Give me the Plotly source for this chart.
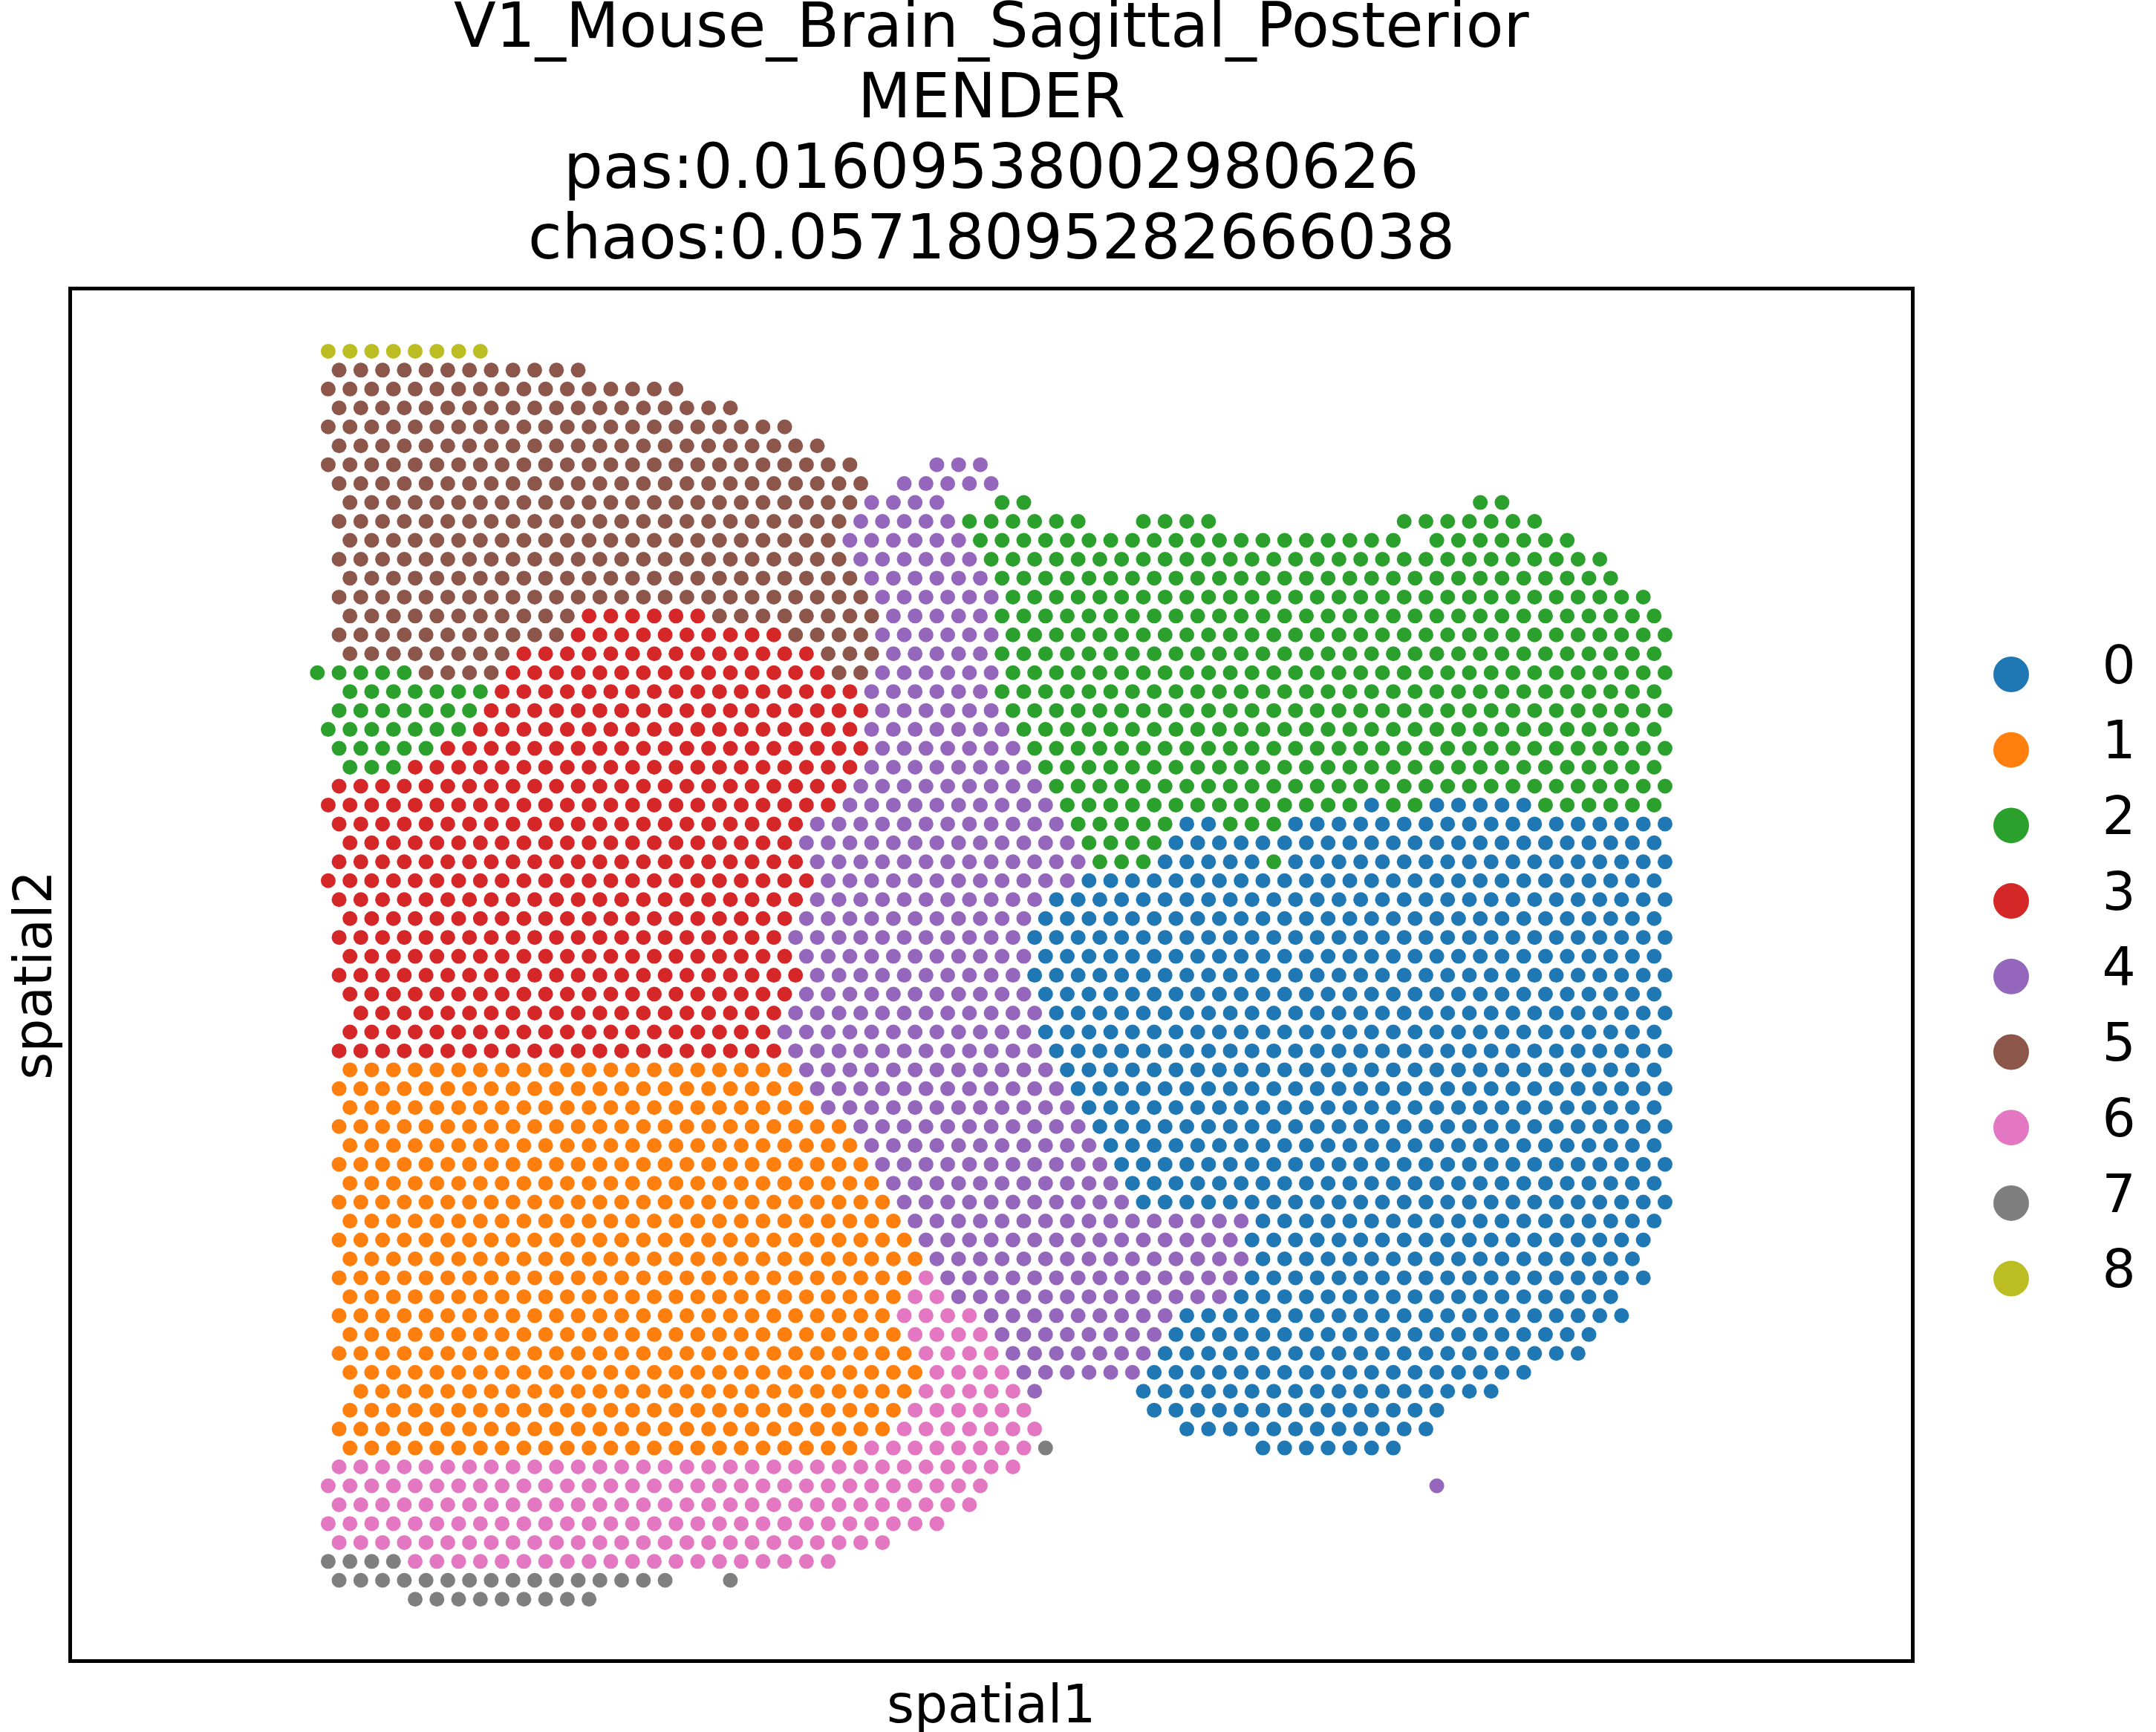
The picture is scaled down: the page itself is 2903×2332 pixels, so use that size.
import plotly.graph_objects as go

# ---------------- data ----------------
CLUSTERS = ["0", "1", "2", "3", "4", "5", "6", "7", "8"]
COLORS = ["#1f77b4", "#ff7f0e", "#2ca02c", "#d62728", "#9467bd",
          "#8c564b", "#e377c2", "#7f7f7f", "#bcbd22"]

# One entry per row of the hexagonal spot grid (top row first).
# Each run is "cluster:first-last" on the half-pitch column index
# (spots inside a row sit on every second column).
SPOT_ROWS = [
    "8:1-15",
    "5:2-24",
    "5:1-33",
    "5:2-38",
    "5:1-43",
    "5:2-46",
    "5:1-49 4:57-61",
    "5:2-50 4:54-62",
    "5:3-49 4:51-57 2:63-65 2:107-109",
    "5:2-48 4:50-58 2:60-70 2:76-82 2:100-112",
    "5:3-47 4:49-59 2:61-99 2:103-115",
    "5:2-48 4:50-60 2:62-118",
    "5:3-49 4:51-61 2:63-119",
    "5:2-50 4:52-62 2:64-122",
    "5:3-23 3:25-35 5:37-51 4:53-61 2:63-123",
    "5:2-22 3:24-42 5:44-50 4:52-62 2:64-124",
    "5:3-17 3:19-45 5:47-51 4:53-61 2:63-123",
    "2:0-8 5:10-16 3:18-46 5:48-50 4:52-62 2:64-124",
    "2:3-15 3:17-49 4:51-61 2:63-123",
    "2:2-14 3:16-50 4:52-62 2:64-124",
    "2:1-13 3:15-49 4:51-63 2:65-123",
    "2:2-10 3:12-50 4:52-64 2:66-124",
    "2:3-7 3:9-49 4:51-65 2:67-123",
    "3:2-48 4:50-66 2:68-124",
    "3:1-47 4:49-67 2:69-95 0:97-97 2:99-101 0:103-111 2:113-123",
    "3:2-44 4:46-68 2:70-78 0:80-82 2:84-88 0:90-124",
    "3:3-43 4:45-69 2:71-77 0:79-123",
    "3:2-44 4:46-70 2:72-76 0:78-86 2:88-88 0:90-124",
    "3:1-45 4:47-69 0:71-123",
    "3:2-44 4:46-66 0:68-124",
    "3:3-43 4:45-65 0:67-123",
    "3:2-42 4:44-64 0:66-124",
    "3:3-43 4:45-65 0:67-123",
    "3:2-44 4:46-64 0:66-124",
    "3:3-43 4:45-65 0:67-123",
    "3:4-42 4:44-66 0:68-124",
    "3:3-41 4:43-65 0:67-123",
    "3:2-42 4:44-66 0:68-124",
    "1:3-43 4:45-67 0:69-123",
    "1:2-44 4:46-68 0:70-124",
    "1:3-45 4:47-69 0:71-123",
    "1:2-48 4:50-70 0:72-124",
    "1:3-49 4:51-71 0:73-123",
    "1:2-50 4:52-72 0:74-124",
    "1:3-51 4:53-73 0:75-123",
    "1:2-52 4:54-74 0:76-124",
    "1:3-53 4:55-85 0:87-123",
    "1:2-54 4:56-84 0:86-122",
    "1:3-55 4:57-85 0:87-121",
    "1:2-54 6:56-56 4:58-84 0:86-122",
    "1:3-53 6:55-57 4:59-83 0:85-119",
    "1:2-52 6:54-60 4:62-78 0:80-120",
    "1:3-53 6:55-61 4:63-77 0:79-117",
    "1:2-54 6:56-62 4:64-76 0:78-116",
    "1:3-55 6:57-63 4:65-75 0:77-111",
    "1:4-54 6:56-64 4:66-66 0:76-108",
    "1:3-53 6:55-65 0:77-103",
    "1:2-52 6:54-66 0:80-102",
    "1:3-49 6:51-65 7:67-67 0:87-99",
    "6:2-64",
    "6:1-61 4:103-103",
    "6:2-60",
    "6:1-57",
    "6:2-52",
    "7:1-7 6:9-47",
    "7:2-32 7:38-38",
    "7:9-25",
]

TITLE_LINES = ["V1_Mouse_Brain_Sagittal_Posterior", "MENDER",
               "pas:0.01609538002980626", "chaos:0.05718095282666038"]
X_LABEL = "spatial1"
Y_LABEL = "spatial2"

# ---------------- expand runs into spots ----------------
xs = {c: [] for c in CLUSTERS}
ys = {c: [] for c in CLUSTERS}
for r, spec in enumerate(SPOT_ROWS):
    for run in spec.split():
        lab, rng = run.split(":")
        a, b = (int(v) for v in rng.split("-"))
        for h in range(a, b + 1, 2):
            xs[lab].append(h)
            ys[lab].append(r)

# ---------------- layout geometry (pixels) ----------------
W, H = 2903, 2332
FONT = "DejaVu Sans"
LW = 4.7
# frame line centres
FL, FR, FT, FB = 95.0, 2575.0, 388.6, 2236.7
# plot area inside the frame lines
PL, PR, PT, PB = FL + LW / 2, FR - LW / 2, FT + LW / 2, FB - LW / 2
# grid -> pixel calibration
X0, DX = 427.3, 14.634
Y0, DY = 472.9, 25.46

xr = [(PL - X0) / DX, (PR - X0) / DX]
yr = [(PB - Y0) / DY, (PT - Y0) / DY]

fig = go.Figure()
for c, col in zip(CLUSTERS, COLORS):
    fig.add_trace(go.Scatter(
        x=xs[c], y=ys[c], mode="markers", name=c,
        marker=dict(size=20, color=col, line=dict(width=0)),
        xaxis="x", yaxis="y", showlegend=False, hoverinfo="skip"))

# legend drawn in its own small axes
LEG_L, LEG_R, LEG_T, LEG_B = 2600.0, 2903.0, 850.0, 1780.0
MK_X, TX_X = 2708.0, 2853.0
LEG_Y0, LEG_DY = 908.0, 101.7
lx_k = TX_X - MK_X
fig.add_trace(go.Scatter(
    x=[0] * len(CLUSTERS), y=list(range(len(CLUSTERS))), mode="markers",
    marker=dict(size=48, color=COLORS, line=dict(width=0)),
    xaxis="x2", yaxis="y2", showlegend=False, hoverinfo="skip"))
fig.add_trace(go.Scatter(
    x=[1] * len(CLUSTERS), y=[i - 0.06 for i in range(len(CLUSTERS))],
    mode="text", text=CLUSTERS, textposition="middle center",
    textfont=dict(family=FONT, size=71, color="black"),
    xaxis="x2", yaxis="y2", showlegend=False, hoverinfo="skip"))

axis_common = dict(showgrid=False, zeroline=False, showticklabels=False, ticks="")
fig.update_layout(
    width=W, height=H, margin=dict(l=0, r=0, t=0, b=0, pad=0),
    paper_bgcolor="white", plot_bgcolor="white", showlegend=False,
    font=dict(family=FONT, color="black"),
    xaxis=dict(domain=[PL / W, PR / W], range=xr, showline=True, mirror=True,
               linecolor="black", linewidth=LW, **axis_common),
    yaxis=dict(domain=[1 - PB / H, 1 - PT / H], range=yr, showline=True, mirror=True,
               linecolor="black", linewidth=LW, **axis_common),
    xaxis2=dict(domain=[LEG_L / W, LEG_R / W],
                range=[(LEG_L - MK_X) / lx_k, (LEG_R - MK_X) / lx_k],
                showline=False, anchor="y2", **axis_common),
    yaxis2=dict(domain=[1 - LEG_B / H, 1 - LEG_T / H],
                range=[(LEG_B - LEG_Y0) / LEG_DY, (LEG_T - LEG_Y0) / LEG_DY],
                showline=False, anchor="x2", **axis_common),
)

annotations = []
TITLE_BASELINES = [63.5, 158.5, 253.5, 348.5]
TSZ = 83
for line, base in zip(TITLE_LINES, TITLE_BASELINES):
    annotations.append(dict(
        text=line, xref="paper", yref="paper", x=(FL + FR) / 2 / W,
        y=1 - (base - 0.346 * TSZ) / H, xanchor="center", yanchor="middle",
        showarrow=False, font=dict(family=FONT, size=TSZ, color="black")))
LSZ = 71
annotations.append(dict(
    text=X_LABEL, xref="paper", yref="paper", x=(FL + FR) / 2 / W,
    y=1 - (2319 - 0.346 * LSZ) / H, xanchor="center", yanchor="middle",
    showarrow=False, font=dict(family=FONT, size=LSZ, color="black")))
annotations.append(dict(
    text=Y_LABEL, xref="paper", yref="paper", x=45 / W,
    y=1 - (FT + FB) / 2 / H, xanchor="center", yanchor="middle", textangle=-90,
    showarrow=False, font=dict(family=FONT, size=LSZ, color="black")))
fig.update_layout(annotations=annotations)

fig.write_html("out.html")
